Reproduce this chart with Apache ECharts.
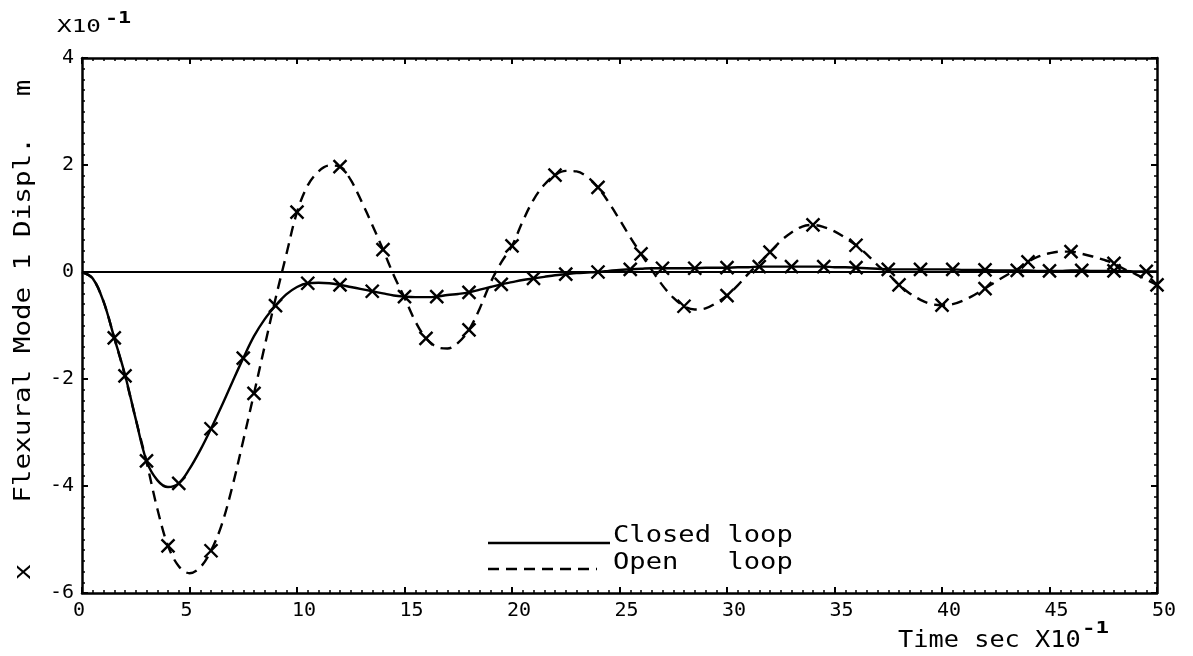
<!DOCTYPE html>
<html>
<head>
<meta charset="utf-8">
<script src="https://cdn.jsdelivr.net/npm/echarts@6/dist/echarts.min.js"></script>
<style>
  html, body { margin: 0; padding: 0; background: #fff; }
  #chart { width: 1193px; height: 656px; }
</style>
</head>
<body>
<div id="chart"></div>
<script>
// Time samples (sec x10^-1)
const timeSamples = [
  0, 0.5, 1, 1.5, 2, 2.5, 3, 3.5, 4, 4.5, 5, 5.5, 6, 6.5, 7, 7.5, 8, 8.5, 9, 9.5,
  10, 10.5, 11, 11.5, 12, 12.5, 13, 13.5, 14, 14.5, 15, 15.5, 16, 16.5, 17, 17.5, 18, 18.5, 19, 19.5,
  20, 20.5, 21, 21.5, 22, 22.5, 23, 23.5, 24, 24.5, 25, 25.5, 26, 26.5, 27, 27.5, 28, 28.5, 29, 29.5,
  30, 30.5, 31, 31.5, 32, 32.5, 33, 33.5, 34, 34.5, 35, 35.5, 36, 36.5, 37, 37.5, 38, 38.5, 39, 39.5,
  40, 40.5, 41, 41.5, 42, 42.5, 43, 43.5, 44, 44.5, 45, 45.5, 46, 46.5, 47, 47.5, 48, 48.5, 49, 49.5, 50
];

// Flexural mode 1 displacement, closed loop (m x10^-1)
const closedLoop = [
  0, -0.12, -0.55, -1.23, -1.92, -2.75, -3.53, -3.89, -4.02, -3.95, -3.68, -3.33, -2.93, -2.50, -2.05, -1.61, -1.20, -0.88, -0.63, -0.42,
  -0.28, -0.21, -0.20, -0.21, -0.24, -0.28, -0.32, -0.36, -0.40, -0.44, -0.46, -0.47, -0.47, -0.46, -0.43, -0.41, -0.38, -0.33, -0.28, -0.23,
  -0.19, -0.15, -0.12, -0.09, -0.06, -0.04, -0.02, -0.01, 0.00, 0.02, 0.04, 0.05, 0.06, 0.07, 0.07, 0.07, 0.07, 0.07, 0.08, 0.08,
  0.08, 0.09, 0.09, 0.10, 0.10, 0.10, 0.10, 0.10, 0.10, 0.10, 0.09, 0.09, 0.08, 0.07, 0.06, 0.05, 0.05, 0.05, 0.05, 0.05,
  0.05, 0.05, 0.04, 0.04, 0.04, 0.03, 0.03, 0.03, 0.03, 0.02, 0.02, 0.02, 0.03, 0.03, 0.02, 0.02, 0.02, 0.02, 0.01, 0.01, 0.01
];

// Flexural mode 1 displacement, open loop (m x10^-1)
const openLoop = [
  0, -0.12, -0.55, -1.23, -1.94, -2.75, -3.55, -4.42, -5.12, -5.50, -5.63, -5.52, -5.21, -4.72, -4.00, -3.15, -2.27, -1.38, -0.50, 0.32,
  1.12, 1.62, 1.88, 1.99, 1.97, 1.72, 1.32, 0.88, 0.42, -0.06, -0.48, -0.92, -1.24, -1.40, -1.43, -1.32, -1.08, -0.68, -0.20, 0.18,
  0.49, 0.95, 1.35, 1.63, 1.81, 1.89, 1.88, 1.78, 1.58, 1.30, 0.98, 0.65, 0.34, 0.04, -0.25, -0.48, -0.64, -0.70, -0.68, -0.58,
  -0.44, -0.25, -0.03, 0.17, 0.37, 0.58, 0.74, 0.85, 0.88, 0.84, 0.76, 0.64, 0.50, 0.33, 0.13, -0.04, -0.24, -0.40, -0.52, -0.60,
  -0.62, -0.60, -0.53, -0.43, -0.31, -0.18, -0.06, 0.05, 0.19, 0.29, 0.35, 0.38, 0.38, 0.34, 0.29, 0.23, 0.16, 0.05, -0.04, -0.14, -0.24
];

// Times at which the plotter put an "x" on each curve
const closedMarkTimes = [1.5, 3, 4.5, 6, 7.5, 9, 10.5, 12, 13.5, 15, 16.5, 18, 19.5, 21, 22.5, 24, 25.5, 27, 28.5, 30,
  31.5, 33, 34.5, 36, 37.5, 39, 40.5, 42, 43.5, 45, 46.5, 48, 49.5];
const openMarkTimes = [2, 4, 6, 8, 10, 12, 14, 16, 18, 20, 22, 24, 26, 28, 30, 32, 34, 36, 38, 40, 42, 44, 46, 48, 50];

const xTickInterval = 5;
const yTickInterval = 2;

const MONO = "'DejaVu Sans Mono', 'Liberation Mono', monospace";
const PEN = 'bold ';

const pairUp = (vals) => timeSamples.map((t, i) => [t, vals[i]]);
const marksOn = (times, vals) => times.map(t => [t, vals[timeSamples.indexOf(t)]]);

const tickCommon = {
  axisLine: { show: true, onZero: false, lineStyle: { color: '#000', width: 2.5 } },
  axisTick: { show: true, inside: true, length: 6, lineStyle: { color: '#000', width: 2 } },
  minorTick: { show: true, splitNumber: 10, length: 3, lineStyle: { color: '#000', width: 1.5 } },
  splitLine: { show: false },
  minorSplitLine: { show: false }
};

const chart = echarts.init(document.getElementById('chart'), null, { renderer: 'canvas' });

const xSymbol = 'path://M0,0L10,10M0,10L10,0';

chart.setOption({
  animation: false,
  backgroundColor: '#fff',
  grid: { left: 82, right: 36, top: 58, bottom: 63 },
  xAxis: [
    Object.assign({
      type: 'value', min: 0, max: 50, interval: xTickInterval, position: 'bottom',
      axisLabel: {
        margin: 8,
        color: '#000',
        fontFamily: MONO,
        fontSize: 20,
        formatter: v => (v < 10 ? '{a|' + v + '}' : '{b|' + v + '}'),
        rich: {
          a: { fontFamily: MONO, fontSize: 20, color: '#000', padding: [0, 6, 0, 0] },
          b: { fontFamily: MONO, fontSize: 20, color: '#000', padding: [0, 0, 0, 14] }
        }
      }
    }, tickCommon),
    Object.assign({
      type: 'value', min: 0, max: 50, interval: xTickInterval, position: 'top',
      axisLabel: { show: false }
    }, tickCommon)
  ],
  yAxis: [
    Object.assign({
      type: 'value', min: -6, max: 4, interval: yTickInterval, position: 'left',
      axisLabel: { margin: 8, color: '#000', fontFamily: MONO, fontSize: 20 }
    }, tickCommon),
    Object.assign({
      type: 'value', min: -6, max: 4, interval: yTickInterval, position: 'right',
      axisLabel: { show: false }
    }, tickCommon)
  ],
  series: [
    {
      name: 'Closed loop',
      type: 'line',
      data: pairUp(closedLoop),
      smooth: 0.35,
      showSymbol: false,
      lineStyle: { color: '#000', width: 2.4 },
      markLine: {
        silent: true,
        symbol: 'none',
        label: { show: false },
        lineStyle: { color: '#000', width: 2.2, type: 'solid' },
        data: [{ yAxis: 0 }]
      },
      z: 3
    },
    {
      name: 'Open loop',
      type: 'line',
      data: pairUp(openLoop),
      smooth: 0.35,
      showSymbol: false,
      lineStyle: { color: '#000', width: 2.4, type: [11, 7] },
      z: 3
    },
    {
      name: 'Closed loop marks',
      type: 'scatter',
      data: marksOn(closedMarkTimes, closedLoop),
      symbol: xSymbol,
      symbolSize: 13,
      itemStyle: { color: 'none', borderColor: '#000', borderWidth: 2.4, opacity: 1 },
      z: 4
    },
    {
      name: 'Open loop marks',
      type: 'scatter',
      data: marksOn(openMarkTimes, openLoop),
      symbol: xSymbol,
      symbolSize: 13,
      itemStyle: { color: 'none', borderColor: '#000', borderWidth: 2.4, opacity: 1 },
      z: 4
    }
  ],
  graphic: [
    // Axis scale factor above the y axis
    { type: 'text', x: 57, y: 27, scaleX: 1.35,
      style: { text: 'X10', font: '18px ' + MONO, fill: '#000', textVerticalAlign: 'middle' } },
    { type: 'text', x: 105, y: 19, scaleX: 1.45,
      style: { text: '-1', font: PEN + '15px ' + MONO, fill: '#000', textVerticalAlign: 'middle' } },

    // Y axis title, written bottom to top
    { type: 'text', x: 24, y: 572, rotation: Math.PI / 2, scaleX: 1.2,
      style: { text: 'x', font: '23px ' + MONO, fill: '#000', textAlign: 'center', textVerticalAlign: 'middle' } },
    { type: 'text', x: 24, y: 320, rotation: Math.PI / 2, scaleX: 1.2,
      style: { text: 'Flexural Mode 1 Displ.', font: '23px ' + MONO, fill: '#000', textAlign: 'center', textVerticalAlign: 'middle' } },
    { type: 'text', x: 24, y: 88, rotation: Math.PI / 2, scaleX: 1.2,
      style: { text: 'm', font: '23px ' + MONO, fill: '#000', textAlign: 'center', textVerticalAlign: 'middle' } },

    // X axis title
    { type: 'text', x: 898, y: 641, scaleX: 1.1,
      style: { text: 'Time sec X10', font: '23px ' + MONO, fill: '#000', textVerticalAlign: 'middle' } },
    { type: 'text', x: 1082, y: 629, scaleX: 1.4,
      style: { text: '-1', font: PEN + '16px ' + MONO, fill: '#000', textVerticalAlign: 'middle' } },

    // Legend
    { type: 'line', shape: { x1: 488, y1: 543, x2: 610, y2: 543 },
      style: { stroke: '#000', lineWidth: 2.4 } },
    { type: 'text', x: 613, y: 536, scaleX: 1.18,
      style: { text: 'Closed loop', font: '23px ' + MONO, fill: '#000', textVerticalAlign: 'middle' } },
    { type: 'line', shape: { x1: 488, y1: 569, x2: 597, y2: 569 },
      style: { stroke: '#000', lineWidth: 2.4, lineDash: [11, 7] } },
    { type: 'text', x: 613, y: 563, scaleX: 1.18,
      style: { text: 'Open   loop', font: '23px ' + MONO, fill: '#000', textVerticalAlign: 'middle' } }
  ]
});
</script>
</body>
</html>
